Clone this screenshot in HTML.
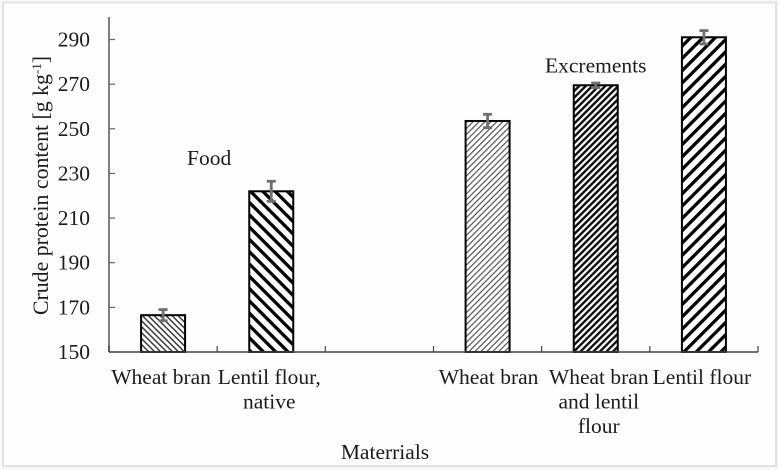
<!DOCTYPE html>
<html lang="en">
<head>
<meta charset="utf-8">
<title>Crude protein content</title>
<style>
html,body{margin:0;padding:0;background:#fff;}
svg{display:block;}
text{font-family:"Liberation Serif",serif;fill:#1c1c1c;font-size:21.5px;}
</style>
</head>
<body>
<svg id="chart" width="779" height="470" viewBox="0 0 779 470" xmlns="http://www.w3.org/2000/svg">
<defs>
<pattern id="p0" width="4.2" height="4.2" patternUnits="userSpaceOnUse" patternTransform="rotate(45)"><rect width="4.2" height="4.2" fill="#fff"/><rect width="4.2" height="1.5" fill="#3a3a3a"/></pattern>
<pattern id="p1" width="8.7" height="8.7" patternUnits="userSpaceOnUse" patternTransform="rotate(45)"><rect width="8.7" height="8.7" fill="#fff"/><rect width="8.7" height="3.3" fill="#000"/></pattern>
<pattern id="p3" width="4.2" height="4.2" patternUnits="userSpaceOnUse" patternTransform="rotate(-45)"><rect width="4.2" height="4.2" fill="#fff"/><rect width="4.2" height="1.2" fill="#555"/></pattern>
<pattern id="p4" width="4.6" height="4.6" patternUnits="userSpaceOnUse" patternTransform="rotate(-45)"><rect width="4.6" height="4.6" fill="#fff"/><rect width="4.6" height="2.4" fill="#111"/></pattern>
<pattern id="p5" width="8.7" height="8.7" patternUnits="userSpaceOnUse" patternTransform="rotate(-45)"><rect width="8.7" height="8.7" fill="#fff"/><rect width="8.7" height="3.3" fill="#000"/></pattern>
</defs>
<rect x="0" y="0" width="779" height="470" fill="#f8f8f8"/>
<rect x="3" y="2.5" width="773" height="463.5" fill="#fefefe" stroke="#e2e2e2" stroke-width="2"/>
<g id="plot"></g>
<text x="187" y="165">Food</text>
<text x="545" y="72.5">Excrements</text>
<text x="385" y="459" text-anchor="middle">Materrials</text>
<text transform="translate(48,185.5) rotate(-90)" text-anchor="middle" font-size="21.8" style="font-size:21.8px">Crude protein content [g kg<tspan dy="-7" style="font-size:13px">-1</tspan><tspan dy="7">]</tspan></text>
</svg>
<script>
const categories = [["Wheat bran"], ["Lentil flour,", "native"], [""], ["Wheat bran"], ["Wheat bran", "and lentil", "flour"], ["Lentil flour"]];
const values = [166.5, 222, null, 253.5, 269.5, 291];
const errors = [2.5, 4.5, null, 3, 1, 3];
const yTicks = [150, 170, 190, 210, 230, 250, 270, 290];

const svgNS = "http://www.w3.org/2000/svg";
const plot = document.getElementById("plot");
const left = 109, right = 758, bottom = 352, yMinVal = 150, pxPerUnit = 2.232, barW = 44;
const labelShift = [-2, -2, 0, 1, 3, -2];
const yScale = function (v) { return bottom - (v - yMinVal) * pxPerUnit; };
const band = (right - left) / categories.length;
const xScale = function (i) { return left + band * (i + 0.5); };

function make(tag, attrs, parent) {
  const el = document.createElementNS(svgNS, tag);
  for (const k in attrs) el.setAttribute(k, attrs[k]);
  (parent || plot).appendChild(el);
  return el;
}

// bars
values.forEach(function (v, i) {
  if (v === null) return;
  const bar = make("rect", { x: xScale(i) - barW / 2, y: yScale(v), width: barW, height: bottom - yScale(v), fill: "url(#p" + i + ")", stroke: "#000", "stroke-width": 2 });
  
  
});

// y axis
const yAxis = make("line", { x1: left, x2: left, y1: 17, y2: bottom, stroke: "#808080", "stroke-width": 2 });


yTicks.forEach(function (t) {
  const y = yScale(t);
  const tick = make("line", { x1: left, x2: left + 6, y1: y, y2: y, stroke: "#666", "stroke-width": 1.2 });
  
  
  const label = make("text", { x: 90, y: y + 7, "text-anchor": "end" });
  label.textContent = t;
  
  
});

// x axis
const xAxis = make("line", { x1: left, x2: right, y1: bottom, y2: bottom, stroke: "#444", "stroke-width": 1.6 });


for (let i = 0; i <= categories.length; i++) {
  const x = left + band * i;
  const tick = make("line", { x1: x, x2: x, y1: bottom - 6, y2: bottom, stroke: "#444", "stroke-width": 1.2 });
  
  
}
categories.forEach(function (lines, i) {
  lines.forEach(function (line, j) {
    if (!line) return;
    const label = make("text", { x: xScale(i) + labelShift[i], y: 384 + j * 24.5, "text-anchor": "middle" });
    label.textContent = line;
    
    
  });
});

// error bars
values.forEach(function (v, i) {
  if (v === null) return;
  const x = xScale(i), top = yScale(v + errors[i]), low = yScale(v - errors[i]);
  const g = make("g", { stroke: "#6f6f6f", "stroke-width": 2.8 });
  
  
  make("line", { x1: x, x2: x, y1: top, y2: low }, g);
  make("line", { x1: x - 4.5, x2: x + 4.5, y1: top, y2: top }, g);
  make("line", { x1: x - 4.5, x2: x + 4.5, y1: low, y2: low }, g);
});
</script>
</body>
</html>
